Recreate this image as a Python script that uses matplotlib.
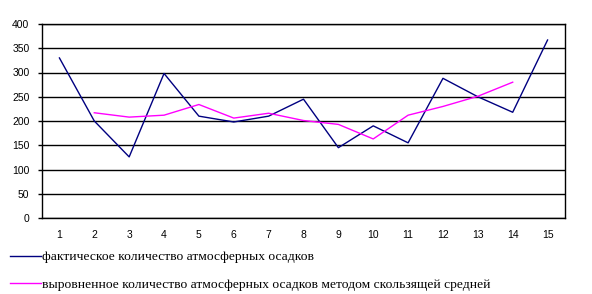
import matplotlib
matplotlib.use("Agg")
import matplotlib.pyplot as plt
from matplotlib.lines import Line2D

years = list(range(1, 16))
actual = [330, 200, 126, 298, 210, 198, 210, 245, 145, 190, 155, 288, 250, 218, 367]
smoothed_x = list(range(2, 15))
smoothed = [217, 208, 212, 234, 206, 216, 201, 193, 163, 212, 230, 251, 280]

label_actual = "фактическое количество атмосферных осадков"
label_smooth = "выровненное количество атмосферных осадков методом скользящей средней"

fig = plt.figure(figsize=(5.92, 2.94), dpi=100)
W, H = 592, 294
ax = fig.add_axes([42 / W, (H - 218) / H, 523 / W, 194 / H])

ax.plot(years, actual, color="#000080", lw=1)
ax.plot(smoothed_x, smoothed, color="#FF00FF", lw=1)

ax.set_xlim(0.5, 15.5)
ax.set_ylim(0, 400)
ax.set_yticks(range(0, 401, 50))
ax.set_xticks(years)
ax.yaxis.grid(True, color="black", lw=1)
ax.set_axisbelow(True)
for s in ax.spines.values():
    s.set_color("black")
    s.set_linewidth(1)
ax.tick_params(axis="y", length=3, width=1, pad=6, labelsize=7.5)
ax.tick_params(axis="x", length=0, pad=9, labelsize=7.5)
for t in ax.get_xticklabels() + ax.get_yticklabels():
    t.set_family("Liberation Sans")

handles = [Line2D([], [], color="#000080", lw=1),
           Line2D([], [], color="#FF00FF", lw=1)]
fig.legend(handles, [label_actual, label_smooth], loc="upper left",
           bbox_to_anchor=(10 / W, 1 - 251 / H), frameon=False,
           prop={"family": "Liberation Serif", "size": 9.7},
           handlelength=2.3, handletextpad=0.1, labelspacing=1.1,
           borderaxespad=0, borderpad=0)

fig.savefig("out.png", dpi=100)
